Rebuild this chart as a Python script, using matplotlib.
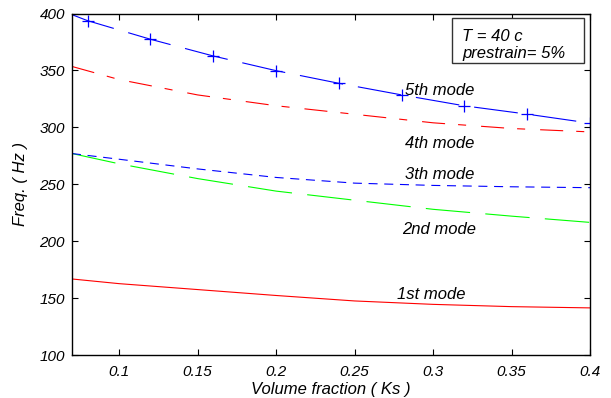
import numpy as np
import matplotlib
matplotlib.use('Agg')
import matplotlib.pyplot as plt
from matplotlib.patches import Rectangle

plt.rcParams['font.family'] = ['Liberation Sans', 'DejaVu Sans']
plt.rcParams['font.style'] = 'italic'
plt.rcParams['lines.scale_dashes'] = False

# volume fraction (Ks)
vf = [0.07, 0.10, 0.15, 0.20, 0.25, 0.30, 0.35, 0.40]
mode1 = [166.8, 162.7, 157.5, 152.3, 147.5, 144.5, 142.5, 141.4]
mode2 = [277.0, 268.0, 255.0, 244.0, 236.0, 228.0, 222.0, 216.5]
mode3 = [277.0, 272.0, 263.5, 256.0, 251.0, 249.0, 247.8, 247.0]
mode4 = [353.5, 342.0, 328.5, 319.0, 311.5, 304.0, 299.0, 296.0]

# 5th mode has its own sample points (marked with +)
vf5 = [0.07, 0.08, 0.12, 0.16, 0.20, 0.24, 0.28, 0.32, 0.36, 0.40]
mode5 = [399.0, 393.7, 377.4, 362.7, 349.8, 338.7, 328.5, 318.9, 311.6, 303.7]

mode_labels = ['1st mode', '2nd mode', '3th mode', '4th mode', '5th mode']
xticks = [0.1, 0.15, 0.2, 0.25, 0.3, 0.35, 0.4]
xticklabels = ['0.1', '0.15', '0.2', '0.25', '0.3', '0.35', '0.4']
yticks = [100, 150, 200, 250, 300, 350, 400]
info_lines = ['T = 40 c', 'prestrain= 5%']

fig = plt.figure(figsize=(6.11, 3.98), dpi=100)
ax = fig.add_axes([0.1178, 0.108, 0.848, 0.858])

lw = 0.8
ax.plot(vf, mode1, color=(1, 0, 0), lw=lw)
ax.plot(vf, mode2, color=(0, 1, 0), lw=lw, dashes=(32, 11))
ax.plot(vf, mode3, color=(0, 0, 1), lw=lw, dashes=(6.5, 4.8))
ax.plot(vf, mode4, color=(1, 0, 0), lw=lw, dashes=(16.6, 9.4, 5.8, 10.8))
ax.plot(vf5, mode5, color=(0, 0, 1), lw=lw, dashes=(31.7, 10.8),
        marker='+', markersize=8, markeredgewidth=0.9, markevery=slice(1, None))

# mode labels
ax.text(0.2986, 149.2, mode_labels[0], ha='center', va='baseline', fontsize=12)
ax.text(0.3036, 206.3, mode_labels[1], ha='center', va='baseline', fontsize=12)
ax.text(0.3042, 254.3, mode_labels[2], ha='center', va='baseline', fontsize=12)
ax.text(0.3042, 281.6, mode_labels[3], ha='center', va='baseline', fontsize=12)
ax.text(0.3042, 328.4, mode_labels[4], ha='center', va='baseline', fontsize=12)

# info box
ax.add_patch(Rectangle((0.7336, 0.854), 0.2548, 0.132, transform=ax.transAxes,
                       fill=True, facecolor='white', edgecolor='#333333', lw=1, zorder=5))
ax.text(0.753, 0.9195, info_lines[0], transform=ax.transAxes, va='baseline', fontsize=12, zorder=6)
ax.text(0.753, 0.869, info_lines[1], transform=ax.transAxes, va='baseline', fontsize=12, zorder=6)

ax.set_xlim(0.07, 0.4)
ax.set_ylim(100, 400)
ax.set_xticks(xticks)
ax.set_xticklabels(xticklabels)
ax.set_yticks(yticks)
ax.tick_params(direction='in', length=4, width=0.8, top=True, right=True, labelsize=11, pad=5)
ax.tick_params(axis='x', pad=7)
for s in ax.spines.values():
    s.set_linewidth(1.0)

ax.set_xlabel('Volume fraction ( Ks )', fontsize=12, labelpad=2)
ax.set_ylabel('Freq. ( Hz )', fontsize=12, labelpad=8)

fig.savefig('out.png', dpi=100)
